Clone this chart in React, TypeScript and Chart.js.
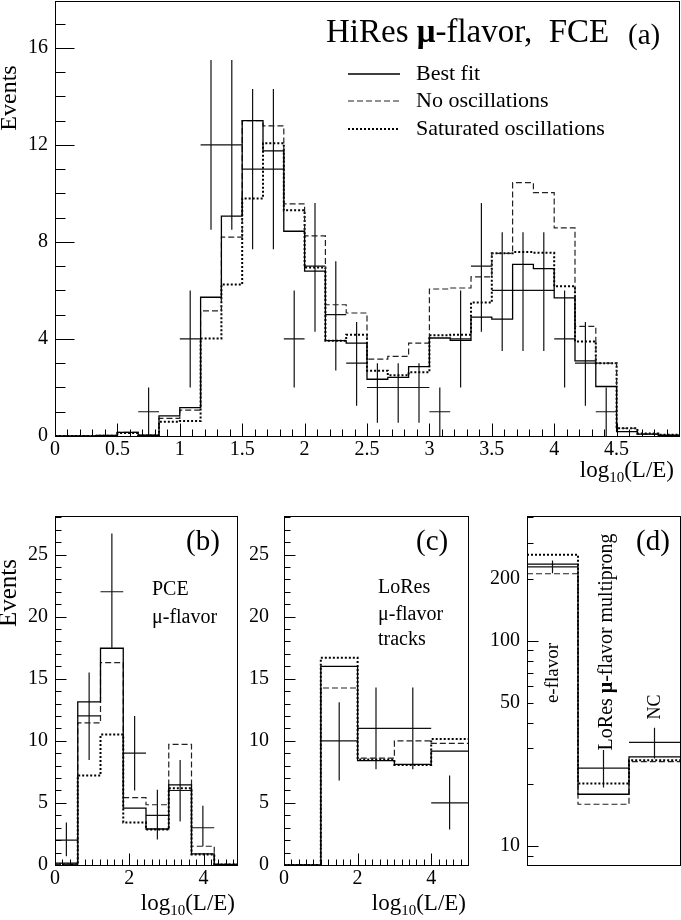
import { useEffect, useRef } from "react"
import { Chart, registerables } from "chart.js"

Chart.register(...registerables)

const SERIF = "'Liberation Serif', 'DejaVu Serif', serif"

// (a) HiRes mu-flavor FCE: 30 bins of log10(L/E) between 0 and 5
const A_XMAX = 5
const A_BIN_WIDTH = A_XMAX / 30
const A_BEST = [0, 0, 0.02, 0.15, 0.03, 0.83, 1.17, 5.72, 9.06, 13.0, 11.75, 8.44, 6.8, 3.93, 3.83, 2.34, 2.42, 2.86, 4.04, 3.94, 4.9, 4.82, 7.07, 6.9, 5.69, 3.1, 2.04, 0.18, 0.08, 0.03]
const A_NOOSC = [0, 0, 0.02, 0.15, 0.03, 0.73, 1.07, 5.16, 8.2, 13.0, 12.78, 9.57, 8.25, 5.41, 5.07, 3.17, 3.28, 3.83, 6.06, 6.1, 6.56, 7.53, 10.44, 10.03, 8.58, 4.52, 3.0, 0.32, 0.08, 0.03]
const A_SAT = [0, 0, 0.01, 0.12, 0.02, 0.59, 0.62, 4.02, 6.24, 9.79, 12.07, 9.3, 6.95, 3.93, 4.17, 2.69, 2.5, 2.63, 4.15, 4.17, 5.5, 7.53, 7.58, 7.55, 6.17, 3.9, 3.0, 0.32, 0.1, 0.05]
const A_DATA = [0, 0, 0, 0, 1, 0, 4, 12, 12, 11, 11, 4, 7, 5, 3, 2, 2, 2, 1, 4, 7, 6, 6, 6, 4, 3, 1, 0, 0, 0]
const A_DATA_LO = [0, 0, 0, 0, 0, 0, 2.0, 8.5, 8.5, 7.7, 7.7, 2.0, 4.3, 2.7, 1.25, 0.55, 0.55, 0.55, 0, 2.0, 4.3, 3.5, 3.5, 3.5, 2.0, 1.25, 0, 0, 0, 0]
const A_DATA_HI = [0, 0, 0, 0, 2.0, 0, 6.0, 15.5, 15.5, 14.3, 14.3, 6.0, 9.6, 7.2, 4.7, 3.0, 3.0, 3.0, 2.0, 6.0, 9.6, 8.4, 8.4, 8.4, 6.0, 4.7, 2.0, 0, 0, 0]
const A_X_LABELS = [0, 0.5, 1, 1.5, 2, 2.5, 3, 3.5, 4, 4.5]
const A_Y_LABELS = [0, 4, 8, 12, 16]

// (b) PCE mu-flavor: 8 bins
const B_XMAX = 4.9
const B_BIN_WIDTH = B_XMAX / 8
const B_BEST = [0.15, 13.13, 17.45, 4.58, 2.9, 6.45, 0.9, 0.05]
const B_NOOSC = [0.05, 11.44, 16.3, 5.43, 4.85, 9.71, 1.51, 0.05]
const B_SAT = [0.05, 7.2, 10.5, 3.43, 2.85, 6.18, 0.85, 0.05]
const B_DATA = [2, 12, 22, 9, 4, 6, 3, 0]
const B_DATA_LO = [0.7, 8.45, 17.5, 6.0, 2.05, 3.5, 1.5, 0]
const B_DATA_HI = [3.43, 15.5, 26.7, 12.0, 6.05, 8.45, 4.77, 0]

// (c) LoRes mu-flavor tracks: 5 bins
const C_XMAX = 5
const C_BIN_WIDTH = 1
const C_BEST = [0, 16.0, 8.4, 8.1, 9.17]
const C_NOOSC = [0, 14.25, 8.6, 10.0, 9.79]
const C_SAT = [0, 16.68, 8.5, 8.05, 10.14]
const C_DATA = [0, 10, 11, 11, 5]
const C_DATA_LO = [0, 6.8, 7.7, 7.7, 2.85]
const C_DATA_HI = [0, 13.1, 14.3, 14.3, 7.2]
const BC_X_LABELS = [0, 2, 4]
const BC_Y_LABELS = [0, 5, 10, 15, 20, 25]

// (d) event samples, log scale
const D_SAMPLES = ["e-flavor", "LoRes μ-flavor multiprong", "NC"]
const D_BEST = [236, 17.9, 27.2]
const D_NOOSC = [212, 16.0, 25.8]
const D_SAT = [262, 20.2, 26.2]
const D_DATA = [229, 24, 32]
const D_DATA_LO = [213, 19.3, 26.7]
const D_DATA_HI = [246, 29.4, 37.7]
const D_Y_LABELS = [10, 50, 100, 200]

const LEGEND = ["Best fit", "No oscillations", "Saturated oscillations"]

type LineStyle = { color: string; width: number; dash: number[] }
const STYLES: LineStyle[] = [
  { color: "#000", width: 1.3, dash: [] },
  { color: "#222", width: 1.2, dash: [6, 3] },
  { color: "#000", width: 2, dash: [2, 2] },
]

type Run = { t: string; size: number; bold?: boolean; dy?: number }
type TextItem = { x: number; y: number; runs: Run[]; align?: "left" | "right" | "center"; base?: CanvasTextBaseline; rot?: boolean }
type TickSpec = { major: number[]; minor: number[]; majorLen: number; minorLen: number }

const font = (size: number, bold = false) => `${bold ? "bold " : ""}${size}px ${SERIF}`
const steps = (from: number, to: number, step: number) => {
  const out: number[] = []
  for (let v = from; v <= to + 1e-9; v += step) out.push(Math.round(v * 1000) / 1000)
  return out
}
const edgesOf = (n: number, w: number) => Array.from({ length: n + 1 }, (_, i) => i * w)

function histDataset(vals: number[], edges: number[], style: LineStyle) {
  const data = vals.map((v, i) => ({ x: edges[i], y: v }))
  data.push({ x: edges[vals.length], y: vals[vals.length - 1] })
  return {
    type: "line" as const,
    data,
    stepped: "before" as const,
    borderColor: style.color,
    borderWidth: style.width,
    borderDash: style.dash,
    pointRadius: 0,
    fill: false,
  }
}

function crossDataset(vals: number[], lo: number[], hi: number[], edges: number[]) {
  const data: { x: number; y: number | null }[] = []
  vals.forEach((v, i) => {
    if (!v) return
    const c = (edges[i] + edges[i + 1]) / 2
    data.push({ x: edges[i], y: v }, { x: edges[i + 1], y: v }, { x: c, y: null })
    data.push({ x: c, y: lo[i] }, { x: c, y: hi[i] }, { x: c, y: null })
  })
  return {
    type: "line" as const,
    data,
    borderColor: "#111",
    borderWidth: 1.2,
    pointRadius: 0,
    spanGaps: false,
    fill: false,
  }
}

function drawRuns(ctx: CanvasRenderingContext2D, item: TextItem) {
  ctx.save()
  ctx.fillStyle = "#000"
  ctx.textBaseline = item.base || "alphabetic"
  let total = 0
  for (const r of item.runs) {
    ctx.font = font(r.size, r.bold)
    total += ctx.measureText(r.t).width
  }
  ctx.translate(item.x, item.y)
  if (item.rot) ctx.rotate(-Math.PI / 2)
  let x = item.align === "right" ? -total : item.align === "center" ? -total / 2 : 0
  for (const r of item.runs) {
    ctx.font = font(r.size, r.bold)
    ctx.textAlign = "left"
    ctx.fillText(r.t, x, r.dy || 0)
    x += ctx.measureText(r.t).width
  }
  ctx.restore()
}

function decor(id: string, cfg: { x?: TickSpec; y?: TickSpec; texts: TextItem[]; legend?: { x0: number; x1: number; tx: number; ys: number[]; size: number } }) {
  return {
    id,
    afterDraw(chart: Chart) {
      const ctx = chart.ctx
      const a = chart.chartArea
      const xs = chart.scales.x
      const ys = chart.scales.y
      ctx.save()
      ctx.strokeStyle = "#000"
      ctx.lineWidth = 1
      const L = Math.round(a.left) + 0.5
      const B = Math.round(a.bottom) + 0.5
      if (cfg.x) {
        const draw = (vals: number[], len: number) =>
          vals.forEach((v) => {
            const p = Math.round(xs.getPixelForValue(v)) + 0.5
            if (p < a.left - 1 || p > a.right + 1) return
            ctx.beginPath()
            ctx.moveTo(p, B)
            ctx.lineTo(p, B - len)
            ctx.stroke()
          })
        draw(cfg.x.minor, cfg.x.minorLen)
        draw(cfg.x.major, cfg.x.majorLen)
      }
      if (cfg.y) {
        const draw = (vals: number[], len: number) =>
          vals.forEach((v) => {
            const p = Math.round(ys.getPixelForValue(v)) + 0.5
            if (p < a.top - 1 || p > a.bottom + 1) return
            ctx.beginPath()
            ctx.moveTo(L, p)
            ctx.lineTo(L + len, p)
            ctx.stroke()
          })
        draw(cfg.y.minor, cfg.y.minorLen)
        draw(cfg.y.major, cfg.y.majorLen)
      }
      ctx.strokeRect(L, Math.round(a.top) + 0.5, Math.round(a.right) - Math.round(a.left), Math.round(a.bottom) - Math.round(a.top))
      if (cfg.legend) {
        const lg = cfg.legend
        lg.ys.forEach((y, i) => {
          const s = STYLES[i]
          ctx.beginPath()
          ctx.strokeStyle = s.color
          ctx.lineWidth = s.width
          ctx.setLineDash(s.dash)
          ctx.moveTo(lg.x0, y)
          ctx.lineTo(lg.x1, y)
          ctx.stroke()
          ctx.setLineDash([])
          drawRuns(ctx, { x: lg.tx, y, base: "middle", runs: [{ t: LEGEND[i], size: lg.size }] })
        })
      }
      ctx.restore()
      cfg.texts.forEach((t) => drawRuns(ctx, t))
    },
  }
}

type PanelSpec = {
  left: number
  top: number
  w: number
  h: number
  area: { left: number; top: number; right: number; bottom: number }
  xMax: number
  yMin: number
  yMax: number
  yLog?: boolean
  xLabels: number[] | null
  yLabels: number[]
  labelSize: number
  xPad: number
  yPad: number
  datasets: any[]
  plugin: any
}

// the label overhang padding is dropped, the plot frame is placed by hand
const noOverhang = (s: any) => {
  s.paddingTop = 0
  s.paddingBottom = 0
  s.paddingLeft = 0
  s.paddingRight = 0
}

function buildConfig(p: PanelSpec): any {
  const tickFont = { family: SERIF, size: p.labelSize }
  return {
    type: "line",
    data: { datasets: p.datasets },
    plugins: [p.plugin],
    options: {
      animation: false,
      responsive: false,
      events: [],
      layout: { autoPadding: false, padding: { left: 0, top: p.area.top, right: p.w - p.area.right, bottom: 0 } },
      plugins: { legend: { display: false }, tooltip: { enabled: false } },
      scales: {
        x: {
          type: "linear",
          min: 0,
          max: p.xMax,
          afterFit: (s: any) => {
            s.height = p.h - p.area.bottom
            noOverhang(s)
          },
          afterBuildTicks: (s: any) => {
            s.ticks = (p.xLabels || []).map((v) => ({ value: v }))
          },
          ticks: {
            display: !!p.xLabels,
            font: tickFont,
            color: "#000",
            padding: p.xPad,
            autoSkip: false,
            maxRotation: 0,
            callback: (v: number) => String(v),
          },
          grid: { display: false, drawTicks: false },
          border: { display: false },
        },
        y: {
          type: p.yLog ? "logarithmic" : "linear",
          min: p.yMin,
          max: p.yMax,
          afterFit: (s: any) => {
            s.width = p.area.left
            noOverhang(s)
          },
          afterBuildTicks: (s: any) => {
            s.ticks = p.yLabels.map((v) => ({ value: v }))
          },
          ticks: {
            font: tickFont,
            color: "#000",
            padding: p.yPad,
            autoSkip: false,
            callback: (v: number) => String(v),
          },
          grid: { display: false, drawTicks: false },
          border: { display: false },
        },
      },
    },
  }
}

const A_EDGES = edgesOf(30, A_BIN_WIDTH)
const B_EDGES = edgesOf(8, B_BIN_WIDTH)
const C_EDGES = edgesOf(5, C_BIN_WIDTH)
const D_EDGES = edgesOf(3, 1)

const logTitle = (x: number, y: number): TextItem => ({
  x,
  y,
  align: "right",
  runs: [
    { t: "log", size: 23 },
    { t: "10", size: 15, dy: 5 },
    { t: "(L/E)", size: 23 },
  ],
})

const PANEL_A: PanelSpec = {
  left: 0,
  top: 0,
  w: 681,
  h: 500,
  area: { left: 55, top: 1, right: 679, bottom: 436 },
  xMax: A_XMAX,
  yMin: 0,
  yMax: 17.93,
  xLabels: A_X_LABELS,
  yLabels: A_Y_LABELS,
  labelSize: 20,
  xPad: 2,
  yPad: 7,
  datasets: [
    histDataset(A_BEST, A_EDGES, STYLES[0]),
    histDataset(A_NOOSC, A_EDGES, STYLES[1]),
    histDataset(A_SAT, A_EDGES, STYLES[2]),
    crossDataset(A_DATA, A_DATA_LO, A_DATA_HI, A_EDGES),
  ],
  plugin: decor("decorA", {
    x: { major: steps(0, 5, 0.5), minor: steps(0, 5, 0.1), majorLen: 13, minorLen: 7 },
    y: { major: steps(0, 16, 4), minor: steps(0, 17, 1), majorLen: 19, minorLen: 10 },
    legend: { x0: 348, x1: 400, tx: 416, ys: [74, 101, 129], size: 22 },
    texts: [
      { x: 326, y: 42, runs: [{ t: "HiRes ", size: 33 }, { t: "μ", size: 33, bold: true }, { t: "-flavor,  FCE", size: 33 }] },
      { x: 628, y: 44, runs: [{ t: "(a)", size: 29 }] },
      { x: 16, y: 98, rot: true, align: "center", runs: [{ t: "Events", size: 24 }] },
      logTitle(674, 477),
    ],
  }),
}

const PANEL_B: PanelSpec = {
  left: 0,
  top: 500,
  w: 250,
  h: 420,
  area: { left: 55, top: 16, right: 237, bottom: 365 },
  xMax: B_XMAX,
  yMin: 0,
  yMax: 28.1,
  xLabels: BC_X_LABELS,
  yLabels: BC_Y_LABELS,
  labelSize: 20,
  xPad: 2,
  yPad: 7,
  datasets: [
    histDataset(B_BEST, B_EDGES, STYLES[0]),
    histDataset(B_NOOSC, B_EDGES, STYLES[1]),
    histDataset(B_SAT, B_EDGES, STYLES[2]),
    crossDataset(B_DATA, B_DATA_LO, B_DATA_HI, B_EDGES),
  ],
  plugin: decor("decorB", {
    x: { major: [0, 2, 4], minor: steps(0, 4.8, 0.2), majorLen: 12, minorLen: 6 },
    y: { major: steps(0, 25, 5), minor: steps(0, 28, 1), majorLen: 11, minorLen: 6 },
    texts: [
      { x: 186, y: 50, runs: [{ t: "(b)", size: 29 }] },
      { x: 152, y: 95, runs: [{ t: "PCE", size: 20 }] },
      { x: 152, y: 123, runs: [{ t: "μ-flavor", size: 20 }] },
      { x: 16, y: 93, rot: true, align: "center", runs: [{ t: "Events", size: 25 }] },
      logTitle(235, 410),
    ],
  }),
}

const PANEL_C: PanelSpec = {
  left: 250,
  top: 500,
  w: 230,
  h: 420,
  area: { left: 34, top: 16, right: 218, bottom: 365 },
  xMax: C_XMAX,
  yMin: 0,
  yMax: 28.1,
  xLabels: BC_X_LABELS,
  yLabels: BC_Y_LABELS,
  labelSize: 20,
  xPad: 2,
  yPad: 15,
  datasets: [
    histDataset(C_BEST, C_EDGES, STYLES[0]),
    histDataset(C_NOOSC, C_EDGES, STYLES[1]),
    histDataset(C_SAT, C_EDGES, STYLES[2]),
    crossDataset(C_DATA, C_DATA_LO, C_DATA_HI, C_EDGES),
  ],
  plugin: decor("decorC", {
    x: { major: [0, 2, 4], minor: steps(0, 5, 0.2), majorLen: 12, minorLen: 6 },
    y: { major: steps(0, 25, 5), minor: steps(0, 28, 1), majorLen: 11, minorLen: 6 },
    texts: [
      { x: 166, y: 50, runs: [{ t: "(c)", size: 29 }] },
      { x: 128, y: 93, runs: [{ t: "LoRes", size: 20 }] },
      { x: 128, y: 120, runs: [{ t: "μ-flavor", size: 20 }] },
      { x: 128, y: 145, runs: [{ t: "tracks", size: 20 }] },
      logTitle(216, 410),
    ],
  }),
}

const PANEL_D: PanelSpec = {
  left: 480,
  top: 500,
  w: 201,
  h: 420,
  area: { left: 47, top: 16, right: 200, bottom: 365 },
  xMax: 3,
  yMin: 8.1,
  yMax: 405,
  yLog: true,
  xLabels: null,
  yLabels: D_Y_LABELS,
  labelSize: 20,
  xPad: 2,
  yPad: 7,
  datasets: [
    histDataset(D_BEST, D_EDGES, STYLES[0]),
    histDataset(D_NOOSC, D_EDGES, STYLES[1]),
    histDataset(D_SAT, D_EDGES, STYLES[2]),
    crossDataset(D_DATA, D_DATA_LO, D_DATA_HI, D_EDGES),
  ],
  plugin: decor("decorD", {
    y: { major: [10, 100], minor: [9, 20, 30, 40, 50, 60, 70, 80, 90, 200, 300, 400], majorLen: 11, minorLen: 6 },
    texts: [
      { x: 156, y: 50, runs: [{ t: "(d)", size: 29 }] },
      { x: 78, y: 173, rot: true, align: "center", runs: [{ t: D_SAMPLES[0], size: 19 }] },
      {
        x: 132,
        y: 142,
        rot: true,
        align: "center",
        runs: [
          { t: "LoRes ", size: 20 },
          { t: "μ", size: 20, bold: true },
          { t: "-flavor multiprong", size: 20 },
        ],
      },
      { x: 180, y: 207, rot: true, align: "center", runs: [{ t: D_SAMPLES[2], size: 18 }] },
    ],
  }),
}

function Panel({ spec }: { spec: PanelSpec }) {
  const ref = useRef<HTMLCanvasElement | null>(null)
  useEffect(() => {
    if (!ref.current) return
    const chart = new Chart(ref.current, buildConfig(spec))
    return () => chart.destroy()
  }, [spec])
  return (
    <canvas
      ref={ref}
      width={spec.w}
      height={spec.h}
      style={{ position: "absolute", left: spec.left, top: spec.top, width: spec.w, height: spec.h }}
    />
  )
}

export default function App() {
  return (
    <div style={{ position: "absolute", left: 0, top: 0, width: 681, height: 920, background: "#fff" }}>
      <Panel spec={PANEL_A} />
      <Panel spec={PANEL_B} />
      <Panel spec={PANEL_C} />
      <Panel spec={PANEL_D} />
    </div>
  )
}
